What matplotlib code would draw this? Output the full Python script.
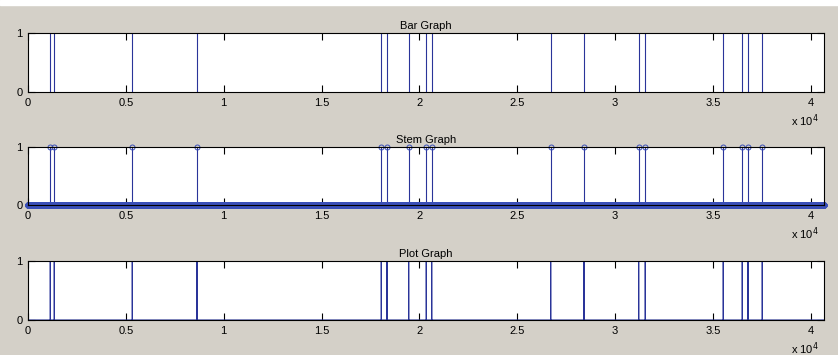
import numpy as np
import matplotlib
matplotlib.use("Agg")
import matplotlib.pyplot as plt
from matplotlib.ticker import FuncFormatter

# Длина сигнала и позиции единичных импульсов (отсчёты)
n_samples = 40660
spike_idx = [1140, 1344, 5330, 8636, 18054, 18344, 19453, 20353, 20629,
             26710, 28411, 31206, 31543, 35529, 36500, 36791, 37522]
titles = ["Bar Graph", "Stem Graph", "Plot Graph"]
xticks = [0, 5000, 10000, 15000, 20000, 25000, 30000, 35000, 40000]
yticks = [0, 1]

signal = np.zeros(n_samples)
signal[spike_idx] = 1
x = np.arange(n_samples)

plt.rcParams['font.family'] = ['Liberation Sans', 'DejaVu Sans']
plt.rcParams['font.size'] = 8

bg = '#d4d0c8'
blue = '#2a3499'
fig = plt.figure(figsize=(8.38, 3.55), dpi=100, facecolor=bg)
# тонкая белая полоса сверху, как на скриншоте
fig.patches.append(plt.Rectangle((0, 0.985), 1, 0.015, transform=fig.transFigure,
                                 color='white', zorder=0))

positions = [[0.0334, 0.740, 0.9495, 0.166],
             [0.0334, 0.4225, 0.9495, 0.1625],
             [0.0334, 0.0986, 0.9495, 0.167]]

axes = [fig.add_axes(p) for p in positions]

# Столбчатый график
axes[0].bar(spike_idx, signal[spike_idx], width=0.8, color=blue,
            edgecolor=blue, linewidth=0.8)

# Стебельковый график
markerline, stemlines, baseline = axes[1].stem(x, signal, basefmt=' ')
stemlines.set_color(blue)
stemlines.set_linewidth(0.8)
markerline.set_color('#3a4fb8')
markerline.set_markerfacecolor('none')
markerline.set_markersize(3.6)
markerline.set_markeredgewidth(0.7)
markerline.set_clip_on(False)

# Обычный график
axes[2].plot(x, signal, color=blue, linewidth=0.8)

fmt = FuncFormatter(lambda v, pos: '%g' % (v / 1e4))
for ax, title in zip(axes, titles):
    ax.set_xlim(0, n_samples)
    ax.set_ylim(0, 1)
    ax.set_xticks(xticks)
    ax.set_yticks(yticks)
    ax.xaxis.set_major_formatter(fmt)
    ax.tick_params(direction='in', top=True, right=True, length=5,
                   width=0.8, pad=4, labelsize=8)
    for s in ax.spines.values():
        s.set_linewidth(0.8)
        s.set_zorder(5)
    ax.set_title(title, fontsize=8, pad=3)
    ax.annotate('x 10$^4$', xy=(1, 0), xycoords='axes fraction',
                xytext=(-5, -20), textcoords='offset pixels',
                ha='right', va='top', fontsize=8)

fig.savefig('out.png', dpi=100, facecolor=bg)
